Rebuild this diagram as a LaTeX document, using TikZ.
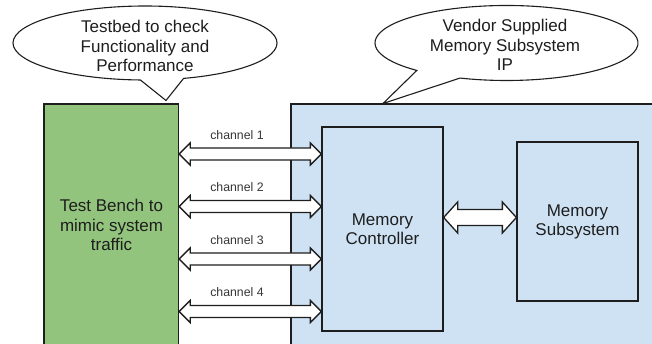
\documentclass[tikz,border=0pt]{standalone}
\usepackage{fontspec}
\setmainfont{Liberation Sans}
\usetikzlibrary{calc}
\definecolor{gfill}{HTML}{93C47D}
\definecolor{bfill}{HTML}{CFE2F3}
\definecolor{ink}{HTML}{1E1E1E}
\newcommand\fatarrow[5]{%
 \draw[fatarr] ($(#1)+(#5,#3)$) -- ($(#2)+(-#5,#3)$) -- ($(#2)+(-#5,#4)$) -- (#2)
   -- ($(#2)+(-#5,-#4)$) -- ($(#2)+(-#5,-#3)$) -- ($(#1)+(#5,-#3)$)
   -- ($(#1)+(#5,-#4)$) -- (#1) -- ($(#1)+(#5,#4)$) -- cycle;}
\begin{document}
\begin{tikzpicture}[x=1pt,y=1pt,
  big/.style={font=\fontsize{17}{19.5}\selectfont, align=center, text=ink, inner sep=0},
  chl/.style={font=\fontsize{12.3}{14}\selectfont, text=ink!90, anchor=base, inner sep=0},
  fatarr/.style={draw=ink, line width=1.3pt, fill=white, line join=miter},
  blk/.style={draw=ink, line width=1.3pt, inner sep=0, anchor=center},
  callout/.style={draw=ink, line width=1.1pt, fill=white, line join=miter}]
\useasboundingbox (0,0) rectangle (652,344);
\clip (0,0) rectangle (652,344);
% main blocks
\node[blk, fill=gfill, minimum width=134.5, minimum height=245] (tb) at (111.25,117.5) {};
\node[blk, fill=bfill, minimum width=374, minimum height=245] (ip) at (478,117.5) {};
\node[blk, fill=bfill, minimum width=121, minimum height=204] (mc) at (382.5,115) {};
\node[blk, fill=bfill, minimum width=121, minimum height=159] (ms) at (577.5,122.5) {};
% texts
\node[big] (tbt) at (111.5,119) {Test Bench to\\mimic system\\traffic};
\node[big] (mct) at (382.5,115) {Memory\\Controller};
\node[big] (mst) at (577.5,122) {Memory\\Subsystem};
% channel arrows
\foreach \i/\y in {1/190, 2/137.5, 3/85, 4/32.5}{
  \coordinate (ch\i) at (250,\y);
  \coordinate (chl\i) at (tb.east |- ch\i);
  \coordinate (chr\i) at (mc.west |- ch\i);
  \fatarrow{chl\i}{chr\i}{6}{11}{11}
  \node[chl] (lab\i) at (237,\y+14.5) {channel \i};
}
% controller <-> subsystem
\coordinate (mid) at (480,126.5);
\coordinate (midl) at (mc.east |- mid);
\coordinate (midr) at (ms.west |- mid);
\fatarrow{midl}{midr}{8}{15.5}{14}
% callouts
\draw[callout] (183.6,265.6) arc[start angle=287, end angle=628, x radius=132, y radius=37]
  -- (166,243.5) -- cycle;
\node[big] (c1) at (145,298) {Testbed to check\\Functionality and\\Performance};
\draw[callout] ($(506.5,301)+(249.3:131.5 and 37.5)$) arc[start angle=249.3, end angle=587, x radius=131.5, y radius=37.5]
  -- (383,240.5) -- cycle;
\node[big] (c2) at (505,299) {Vendor Supplied\\Memory Subsystem\\IP};
\end{tikzpicture}
\end{document}
